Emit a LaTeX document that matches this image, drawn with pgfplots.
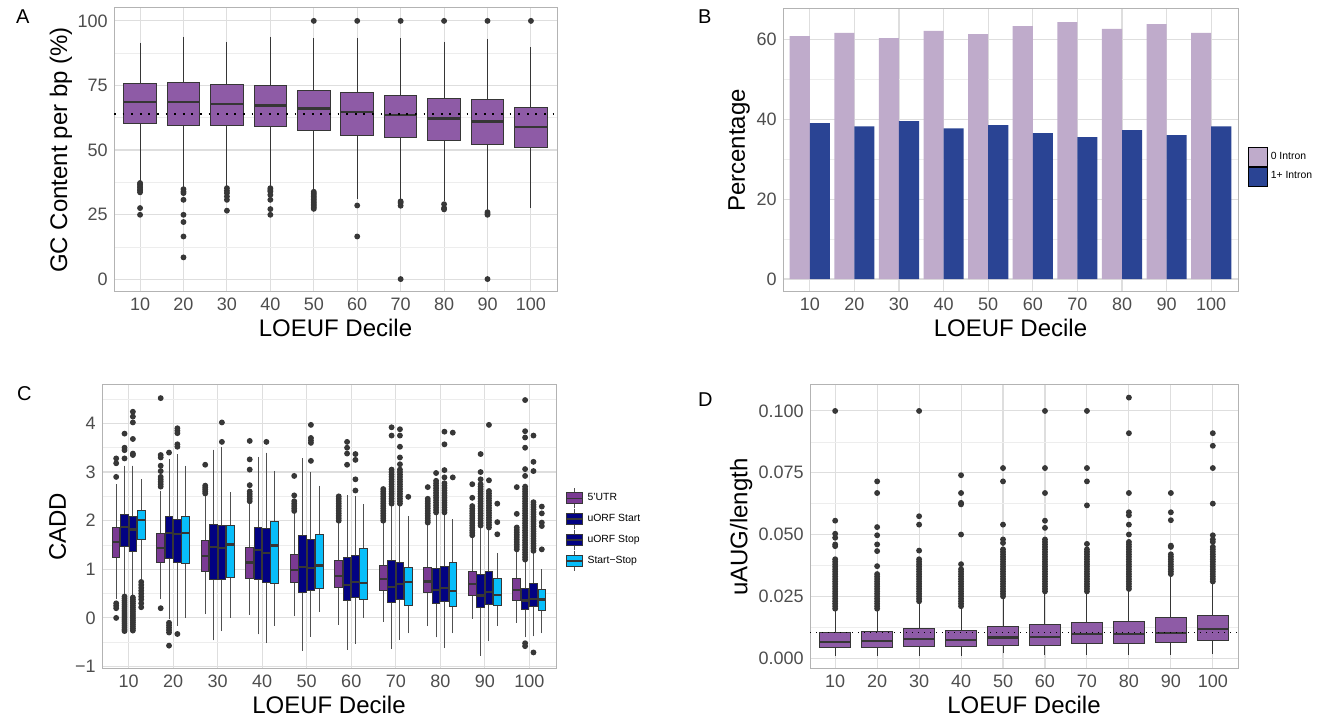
\documentclass[border=0pt]{standalone}
\usepackage{pgfplots}
\pgfplotsset{compat=1.18}
\usepgfplotslibrary{statistics}
\usepackage{fontspec}
\setmainfont{Liberation Sans}

\definecolor{boxA}{HTML}{8E5BA6}
\definecolor{barA}{HTML}{BFABCB}
\definecolor{barB}{HTML}{2A4494}
\definecolor{cU}{HTML}{7A3A93}
\definecolor{cS}{HTML}{020282}
\definecolor{cX}{HTML}{08BEFA}
\definecolor{boxline}{HTML}{363636}
\definecolor{whisk}{HTML}{505050}
\definecolor{outcol}{HTML}{383838}
\definecolor{tickcol}{HTML}{4D4D4D}
\definecolor{border}{HTML}{B3B3B3}
\definecolor{gridmaj}{HTML}{DEDEDE}
\definecolor{gridmin}{HTML}{EDEDED}

\pgfplotsset{
  table/row sep=\\, table/y index=0,
  gg/.style={
    scale only axis,
    xmin=0.4, xmax=10.6,
    xtick={1,...,10},
    xticklabels={10,20,30,40,50,60,70,80,90,100},
    /pgf/number format/assume math mode=true,
    axis line style={draw=border, line width=0.5pt},
    major tick length=0pt, minor tick length=0pt,
    xmajorgrids, ymajorgrids, yminorgrids,
    major grid style={draw=gridmaj, line width=0.55pt},
    minor grid style={draw=gridmin, line width=0.3pt},
    tick label style={font=\fontsize{9}{10}\selectfont, text=tickcol, inner sep=0pt},
    xticklabel style={yshift=-3pt},
    yticklabel style={xshift=-3pt},
    label style={font=\fontsize{12}{14}\selectfont, inner sep=0pt},
    xlabel style={at={(axis description cs:0.5,0)}, anchor=north, yshift=-13.5pt},
    xlabel={LOEUF Decile},
    boxplot/draw direction=y,
  },
  bx/.style={forget plot, draw=boxline, line width=0.5pt, fill=#1,
    mark=*, mark size=1.2pt, mark options={draw=none, fill=outcol},
    boxplot/whisker extend=0,
    boxplot/every median/.style={draw=boxline, line width=1.1pt}},
}

\begin{document}
\begin{tikzpicture}
\path[use as bounding box] (0,0) rectangle (664.5pt,360.5pt);

\node[anchor=base west, font=\fontsize{10}{12}\selectfont] at (4.5pt,348.5pt) {A};
\node[anchor=base west, font=\fontsize{10}{12}\selectfont] at (345.5pt,348.5pt) {B};
\node[anchor=base west, font=\fontsize{10}{12}\selectfont] at (5pt,160pt) {C};
\node[anchor=base west, font=\fontsize{10}{12}\selectfont] at (345.5pt,157pt) {D};

% ---------------- A: GC content
\begin{axis}[gg, at={(57pt,214.5pt)}, anchor=south west,
  width=221.5pt, height=142pt,
  ymin=-5, ymax=105, ytick={0,25,50,75,100}, minor ytick={12.5,37.5,62.5,87.5},
  ylabel={GC Content per bp (\%)},
  ylabel style={at={(axis description cs:-0.1196,0.5)}, anchor=center},
  boxplot/box extend=0.75]
\addplot[bx=boxA, boxplot prepared={draw position=1, lower whisker=38.0, lower quartile=60.3, median=68.6, upper quartile=75.6, upper whisker=91.6}]
  table {y\\ 37.2\\ 36.6\\ 36\\ 35.4\\ 34.8\\ 34.2\\ 33.6\\ 27.5\\ 24.9\\};
\addplot[bx=boxA, boxplot prepared={draw position=2, lower whisker=35.5, lower quartile=59.6, median=68.6, upper quartile=76.1, upper whisker=93.9}]
  table {y\\ 34.8\\ 33.9\\ 33.3\\ 30.7\\ 24.9\\ 22.1\\ 16.5\\ 8.4\\};
\addplot[bx=boxA, boxplot prepared={draw position=3, lower whisker=36.0, lower quartile=59.6, median=67.9, upper quartile=75.5, upper whisker=91.9}]
  table {y\\ 35.2\\ 34.2\\ 33.3\\ 32.0\\ 30.7\\ 26.5\\};
\addplot[bx=boxA, boxplot prepared={draw position=4, lower whisker=36.0, lower quartile=59.1, median=67.2, upper quartile=75.1, upper whisker=93.9}]
  table {y\\ 35.2\\ 34.5\\ 33.9\\ 32.6\\ 30.7\\ 27.1\\ 24.9\\};
\addplot[bx=boxA, boxplot prepared={draw position=5, lower whisker=34.5, lower quartile=57.4, median=66.1, upper quartile=73.2, upper whisker=93.3}]
  table {y\\ 100\\ 33.8\\ 33.2\\ 32.6\\ 32\\ 31.4\\ 30.8\\ 30.2\\ 29.6\\ 29\\ 28.4\\ 27.8\\ 27.2\\};
\addplot[bx=boxA, boxplot prepared={draw position=6, lower whisker=31.1, lower quartile=55.6, median=64.8, upper quartile=72.3, upper whisker=93.5}]
  table {y\\ 100\\ 28.5\\ 16.5\\};
\addplot[bx=boxA, boxplot prepared={draw position=7, lower whisker=31.0, lower quartile=54.7, median=63.5, upper quartile=71.1, upper whisker=93.3}]
  table {y\\ 100\\ 30.1\\ 29.5\\ 28.4\\ 0\\};
\addplot[bx=boxA, boxplot prepared={draw position=8, lower whisker=30.2, lower quartile=53.7, median=62.2, upper quartile=69.9, upper whisker=91.9}]
  table {y\\ 100\\ 29\\ 27.5\\ 27\\};
\addplot[bx=boxA, boxplot prepared={draw position=9, lower whisker=26.8, lower quartile=52.3, median=61.0, upper quartile=69.7, upper whisker=93.0}]
  table {y\\ 100\\ 25.9\\ 25.3\\ 24.9\\ 0\\};
\addplot[bx=boxA, boxplot prepared={draw position=10, lower whisker=27.7, lower quartile=50.8, median=58.8, upper quartile=66.6, upper whisker=89.8}]
  table {y\\ 100\\};
\addplot[black, line width=0.9pt, dash pattern=on 0.9pt off 3.4pt, forget plot]
  coordinates {(0.4,63.9) (10.6,63.9)};
\end{axis}

% ---------------- B: intron percentage
\begin{axis}[gg, at={(391.5pt,214.5pt)}, anchor=south west,
  width=227.5pt, height=141.5pt,
  ymin=-3.25, ymax=67.7, ytick={0,20,40,60}, minor ytick={10,30,50},
  ylabel={Percentage},
  ylabel style={at={(axis description cs:-0.0967,0.5)}, anchor=center},
  bar width=0.45,
  legend image code/.code={\fill[#1] (0pt,-4.75pt) rectangle (9.5pt,4.75pt);},
  legend style={at={(axis description cs:1.022,0.512)}, anchor=north west,
    draw=none, fill=none, inner sep=0pt, outer sep=0pt, row sep=0pt,
    font=\fontsize{5.2}{6}\selectfont, legend cell align=left,
    nodes={inner xsep=1.5pt, inner ysep=0pt}}]
\addplot[ybar, bar shift=-0.225, fill=barA, draw=none, forget plot]
  coordinates {(1,60.9) (2,61.7) (3,60.4) (4,62.2) (5,61.4) (6,63.4) (7,64.4) (8,62.7) (9,63.9) (10,61.7)};
\addplot[ybar, bar shift=0.225, fill=barB, draw=none, forget plot]
  coordinates {(1,39.1) (2,38.3) (3,39.6) (4,37.8) (5,38.6) (6,36.6) (7,35.6) (8,37.3) (9,36.1) (10,38.3)};
\addlegendimage{fill=barA}
\addlegendentry{0 Intron}
\addlegendimage{fill=barB}
\addlegendentry{1+ Intron}
\end{axis}

% ---------------- C: CADD
\begin{axis}[gg, at={(51pt,26pt)}, anchor=south west,
  width=227pt, height=142pt,
  ymin=-1.05, ymax=4.79, ytick={-1,0,1,2,3,4}, yticklabels={−1,0,1,2,3,4},
  minor ytick={-0.5,0.5,1.5,2.5,3.5,4.5},
  ylabel={CADD},
  ylabel style={at={(axis description cs:-0.098,0.5)}, anchor=center},
  boxplot/box extend=0.17,
  boxplot/every whisker/.style={draw=whisk},
  legend image code/.code={
    \draw[whisk, line width=0.4pt] (4pt,-5pt)--(4pt,5pt);
    \filldraw[#1, draw=boxline, line width=0.5pt] (0pt,-2.75pt) rectangle (8pt,2.75pt);
    \draw[boxline, line width=0.8pt] (0pt,0pt)--(8pt,0pt);},
  legend style={at={(axis description cs:1.022,0.637)}, anchor=north west,
    draw=none, fill=none, inner sep=0pt, outer sep=0pt, row sep=0pt,
    font=\fontsize{5.2}{6}\selectfont, legend cell align=left,
    nodes={inner xsep=2pt, inner ysep=0pt}}]
% decile 10
\addplot[bx=cU, boxplot prepared={draw position=0.71875, lower whisker=0.38, lower quartile=1.25, median=1.56, upper quartile=1.86, upper whisker=2.75}]
  table {y\\ 3.28\\ 3.18\\ 2.9\\ 0.3\\ 0.25\\ 0.2\\ 0\\};
\addplot[bx=cS, boxplot prepared={draw position=0.90625, lower whisker=0.48, lower quartile=1.46, median=1.87, upper quartile=2.13, upper whisker=3.13}]
  table {y\\ 3.79\\ 3.5\\ 3.45\\ 3.28\\ 0.44\\ 0.40\\ 0.36\\ 0.32\\ 0.28\\ 0.24\\ 0.20\\ 0.16\\ 0.12\\ 0.08\\ 0.04\\ 0\\ -0.04\\ -0.08\\ -0.12\\ -0.16\\ -0.2\\ -0.24\\ -0.27\\};
\addplot[bx=cS, boxplot prepared={draw position=1.09375, lower whisker=0.46, lower quartile=1.37, median=1.82, upper quartile=2.08, upper whisker=3.13}]
  table {y\\ 4.24\\ 4.14\\ 4.02\\ 3.68\\ 3.38\\ 3.35\\ 0.42\\ 0.38\\ 0.34\\ 0.30\\ 0.26\\ 0.22\\ 0.18\\ 0.14\\ 0.10\\ 0.06\\ 0.02\\ -0.02\\ -0.06\\ -0.10\\ -0.14\\ -0.18\\ -0.22\\ -0.26\\};
\addplot[bx=cX, boxplot prepared={draw position=1.28125, lower whisker=0.8, lower quartile=1.62, median=2.01, upper quartile=2.2, upper whisker=2.85}]
  table {y\\ 0.74\\ 0.68\\ 0.62\\ 0.56\\ 0.5\\ 0.44\\ 0.38\\ 0.3\\ 0.22\\};
% decile 20
\addplot[bx=cU, boxplot prepared={draw position=1.71875, lower whisker=0.38, lower quartile=1.13, median=1.43, upper quartile=1.73, upper whisker=2.62}]
  table {y\\ 4.52\\ 3.35\\ 3.3\\ 3.13\\ 3.02\\ 2.9\\ 2.85\\ 2.8\\ 2.75\\ 2.7\\ 0.2\\};
\addplot[bx=cS, boxplot prepared={draw position=1.90625, lower whisker=-0.03, lower quartile=1.22, median=1.74, upper quartile=2.08, upper whisker=3.26}]
  table {y\\ 3.4\\ -0.1\\ -0.15\\ -0.2\\ -0.25\\ -0.3\\ -0.57\\};
\addplot[bx=cS, boxplot prepared={draw position=2.09375, lower whisker=-0.16, lower quartile=1.15, median=1.72, upper quartile=2.03, upper whisker=3.37}]
  table {y\\ 3.9\\ 3.85\\ 3.8\\ 3.57\\ 3.52\\ -0.33\\};
\addplot[bx=cX, boxplot prepared={draw position=2.28125, lower whisker=0.0, lower quartile=1.12, median=1.75, upper quartile=2.08, upper whisker=3.13}]
  coordinates {};
% decile 30
\addplot[bx=cU, boxplot prepared={draw position=2.71875, lower whisker=0.08, lower quartile=0.96, median=1.27, upper quartile=1.6, upper whisker=2.5}]
  table {y\\ 3.15\\ 2.72\\ 2.68\\ 2.64\\ 2.6\\ 2.56\\};
\addplot[bx=cS, boxplot prepared={draw position=2.90625, lower whisker=-0.46, lower quartile=0.8, median=1.46, upper quartile=1.93, upper whisker=3.46}]
  coordinates {};
\addplot[bx=cS, boxplot prepared={draw position=3.09375, lower whisker=-0.27, lower quartile=0.78, median=1.43, upper quartile=1.9, upper whisker=3.52}]
  table {y\\ 4.02\\ 3.62\\};
\addplot[bx=cX, boxplot prepared={draw position=3.28125, lower whisker=0.0, lower quartile=0.84, median=1.51, upper quartile=1.91, upper whisker=2.58}]
  coordinates {};
% decile 40
\addplot[bx=cU, boxplot prepared={draw position=3.71875, lower whisker=0.07, lower quartile=0.82, median=1.14, upper quartile=1.45, upper whisker=2.35}]
  table {y\\ 3.64\\ 3.26\\ 3.05\\ 2.73\\ 2.6\\ 2.55\\ 2.5\\ 2.45\\ 2.4\\};
\addplot[bx=cS, boxplot prepared={draw position=3.90625, lower whisker=-0.34, lower quartile=0.78, median=1.4, upper quartile=1.86, upper whisker=3.31}]
  coordinates {};
\addplot[bx=cS, boxplot prepared={draw position=4.09375, lower whisker=-0.52, lower quartile=0.72, median=1.34, upper quartile=1.83, upper whisker=3.4}]
  table {y\\ 3.62\\};
\addplot[bx=cX, boxplot prepared={draw position=4.28125, lower whisker=-0.16, lower quartile=0.71, median=1.49, upper quartile=1.98, upper whisker=3.03}]
  coordinates {};
% decile 50
\addplot[bx=cU, boxplot prepared={draw position=4.71875, lower whisker=0.03, lower quartile=0.72, median=0.99, upper quartile=1.3, upper whisker=2.15}]
  table {y\\ 2.92\\ 2.52\\ 2.4\\ 2.35\\ 2.3\\ 2.25\\ 2.2\\};
\addplot[bx=cS, boxplot prepared={draw position=4.90625, lower whisker=-0.67, lower quartile=0.52, median=1.04, upper quartile=1.69, upper whisker=3.28}]
  coordinates {};
\addplot[bx=cS, boxplot prepared={draw position=5.09375, lower whisker=-0.39, lower quartile=0.56, median=1.02, upper quartile=1.62, upper whisker=3.0}]
  table {y\\ 3.97\\ 3.7\\ 3.65\\ 3.6\\ 3.23\\};
\addplot[bx=cX, boxplot prepared={draw position=5.28125, lower whisker=0.12, lower quartile=0.6, median=1.08, upper quartile=1.72, upper whisker=2.72}]
  coordinates {};
% decile 60
\addplot[bx=cU, boxplot prepared={draw position=5.71875, lower whisker=-0.14, lower quartile=0.62, median=0.87, upper quartile=1.18, upper whisker=1.95}]
  table {y\\ 2.0\\ 2.05\\ 2.1\\ 2.15\\ 2.2\\ 2.25\\ 2.3\\ 2.35\\ 2.4\\ 2.45\\ 2.5\\};
\addplot[bx=cS, boxplot prepared={draw position=5.90625, lower whisker=-0.65, lower quartile=0.36, median=0.67, upper quartile=1.25, upper whisker=2.52}]
  table {y\\ 3.62\\ 3.5\\ 3.38\\ 3.15\\};
\addplot[bx=cS, boxplot prepared={draw position=6.09375, lower whisker=-0.53, lower quartile=0.42, median=0.74, upper quartile=1.29, upper whisker=2.5}]
  table {y\\ 3.37\\ 3.25\\ 2.85\\ 2.62\\};
\addplot[bx=cX, boxplot prepared={draw position=6.28125, lower whisker=0.0, lower quartile=0.38, median=0.72, upper quartile=1.43, upper whisker=2.34}]
  coordinates {};
% decile 70
\addplot[bx=cU, boxplot prepared={draw position=6.71875, lower whisker=-0.08, lower quartile=0.56, median=0.8, upper quartile=1.07, upper whisker=1.95}]
  table {y\\ 2.0\\ 2.05\\ 2.1\\ 2.15\\ 2.2\\ 2.25\\ 2.3\\ 2.35\\ 2.4\\ 2.45\\ 2.5\\ 2.55\\ 2.6\\ 2.65\\};
\addplot[bx=cS, boxplot prepared={draw position=6.90625, lower whisker=-0.64, lower quartile=0.31, median=0.63, upper quartile=1.18, upper whisker=2.3}]
  table {y\\ 3.92\\ 3.75\\ 3.05\\ 3.0\\ 2.95\\ 2.9\\ 2.85\\ 2.8\\ 2.75\\ 2.7\\ 2.65\\ 2.6\\ 2.55\\ 2.5\\ 2.45\\ 2.4\\ 2.35\\};
\addplot[bx=cS, boxplot prepared={draw position=7.09375, lower whisker=-0.45, lower quartile=0.38, median=0.69, upper quartile=1.15, upper whisker=2.3}]
  table {y\\ 3.88\\ 3.75\\ 3.52\\ 3.3\\ 3.16\\ 3.05\\ 3.0\\ 2.95\\ 2.9\\ 2.85\\ 2.8\\ 2.75\\ 2.7\\ 2.65\\ 2.6\\ 2.55\\ 2.5\\ 2.45\\ 2.4\\ 2.35\\};
\addplot[bx=cX, boxplot prepared={draw position=7.28125, lower whisker=-0.32, lower quartile=0.26, median=0.74, upper quartile=1.03, upper whisker=2.1}]
  table {y\\ 2.49\\};
% decile 80
\addplot[bx=cU, boxplot prepared={draw position=7.71875, lower whisker=-0.17, lower quartile=0.52, median=0.75, upper quartile=1.03, upper whisker=1.92}]
  table {y\\ 2.69\\ 1.96\\ 2.0\\ 2.05\\ 2.1\\ 2.15\\ 2.2\\ 2.25\\ 2.3\\ 2.35\\ 2.4\\ 2.45\\};
\addplot[bx=cS, boxplot prepared={draw position=7.90625, lower whisker=-0.4, lower quartile=0.29, median=0.58, upper quartile=1.01, upper whisker=2.13}]
  table {y\\ 2.98\\ 2.17\\ 2.22\\ 2.27\\ 2.32\\ 2.37\\ 2.42\\ 2.47\\ 2.52\\ 2.57\\ 2.62\\ 2.67\\ 2.72\\ 2.77\\ 2.82\\};
\addplot[bx=cS, boxplot prepared={draw position=8.09375, lower whisker=-0.62, lower quartile=0.33, median=0.62, upper quartile=1.05, upper whisker=2.13}]
  table {y\\ 3.83\\ 3.57\\ 3.04\\ 2.89\\ 2.17\\ 2.22\\ 2.27\\ 2.32\\ 2.37\\ 2.42\\ 2.47\\ 2.52\\ 2.57\\ 2.62\\ 2.67\\ 2.72\\ 2.77\\};
\addplot[bx=cX, boxplot prepared={draw position=8.28125, lower whisker=-0.32, lower quartile=0.24, median=0.55, upper quartile=1.13, upper whisker=2.03}]
  table {y\\ 3.81\\ 2.89\\};
% decile 90
\addplot[bx=cU, boxplot prepared={draw position=8.71875, lower whisker=-0.02, lower quartile=0.46, median=0.69, upper quartile=0.96, upper whisker=1.65}]
  table {y\\ 2.75\\ 2.47\\ 1.7\\ 1.75\\ 1.8\\ 1.85\\ 1.9\\ 1.95\\ 2.0\\ 2.05\\ 2.1\\ 2.15\\ 2.2\\ 2.25\\ 2.3\\};
\addplot[bx=cS, boxplot prepared={draw position=8.90625, lower whisker=-0.78, lower quartile=0.21, median=0.46, upper quartile=0.89, upper whisker=1.86}]
  table {y\\ 3.37\\ 3.0\\ 1.9\\ 1.95\\ 2.0\\ 2.05\\ 2.1\\ 2.15\\ 2.2\\ 2.25\\ 2.3\\ 2.35\\ 2.4\\ 2.45\\ 2.5\\ 2.55\\ 2.6\\ 2.65\\ 2.7\\ 2.75\\ 2.85\\};
\addplot[bx=cS, boxplot prepared={draw position=9.09375, lower whisker=-0.48, lower quartile=0.28, median=0.54, upper quartile=0.96, upper whisker=1.82}]
  table {y\\ 3.97\\ 2.83\\ 1.86\\ 1.91\\ 1.96\\ 2.01\\ 2.06\\ 2.11\\ 2.16\\ 2.21\\ 2.26\\ 2.31\\ 2.36\\ 2.41\\ 2.46\\ 2.51\\ 2.56\\ 2.61\\};
\addplot[bx=cX, boxplot prepared={draw position=9.28125, lower whisker=-0.16, lower quartile=0.25, median=0.47, upper quartile=0.81, upper whisker=1.34}]
  table {y\\ 2.35\\ 1.97\\ 1.72\\};
% decile 100
\addplot[bx=cU, boxplot prepared={draw position=9.71875, lower whisker=-0.1, lower quartile=0.36, median=0.57, upper quartile=0.82, upper whisker=1.37}]
  table {y\\ 2.69\\ 2.14\\ 1.41\\ 1.46\\ 1.51\\ 1.56\\ 1.61\\ 1.66\\ 1.71\\ 1.76\\ 1.81\\ 1.86\\};
\addplot[bx=cS, boxplot prepared={draw position=9.90625, lower whisker=-0.4, lower quartile=0.17, median=0.36, upper quartile=0.6, upper whisker=1.17}]
  table {y\\ 4.48\\ 3.84\\ 3.71\\ 3.5\\ 3.06\\ 2.92\\ 1.2\\ 1.25\\ 1.3\\ 1.35\\ 1.4\\ 1.45\\ 1.5\\ 1.55\\ 1.6\\ 1.65\\ 1.7\\ 1.75\\ 1.8\\ 1.85\\ 1.9\\ 1.95\\ 2.0\\ 2.05\\ 2.1\\ 2.15\\ 2.2\\ 2.25\\ 2.3\\ 2.35\\ 2.4\\ 2.45\\ 2.5\\ 2.55\\ 2.6\\ 2.65\\ 2.7\\ -0.52\\ -0.58\\};
\addplot[bx=cS, boxplot prepared={draw position=10.09375, lower whisker=-0.38, lower quartile=0.23, median=0.39, upper quartile=0.7, upper whisker=1.34}]
  table {y\\ 3.75\\ 3.21\\ 3.02\\ 1.38\\ 1.43\\ 1.48\\ 1.53\\ 1.58\\ 1.63\\ 1.68\\ 1.73\\ 1.78\\ 1.83\\ 1.88\\ 1.93\\ 1.98\\ 2.03\\ 2.08\\ 2.13\\ 2.18\\ 2.23\\ 2.28\\ 2.33\\ 2.38\\ -0.71\\};
\addplot[bx=cX, boxplot prepared={draw position=10.28125, lower whisker=-0.32, lower quartile=0.16, median=0.38, upper quartile=0.58, upper whisker=1.0}]
  table {y\\ 2.29\\ 2.15\\ 1.96\\ 1.89\\ 1.41\\};
\addlegendimage{fill=cU}
\addlegendentry{5'UTR}
\addlegendimage{fill=cS}
\addlegendentry{uORF Start}
\addlegendimage{fill=cS}
\addlegendentry{uORF Stop}
\addlegendimage{fill=cX}
\addlegendentry{Start−Stop}
\end{axis}

% ---------------- D: uAUG/length
\begin{axis}[gg, at={(405pt,26pt)}, anchor=south west,
  width=214pt, height=142pt,
  ymin=-0.0044, ymax=0.1105, ytick={0,0.025,0.05,0.075,0.1},
  yticklabels={0.000,0.025,0.050,0.075,0.100},
  minor ytick={0.0125,0.0375,0.0625,0.0875},
  ylabel={uAUG/length},
  ylabel style={at={(axis description cs:-0.161,0.5)}, anchor=center},
  boxplot/box extend=0.75]
\addplot[bx=boxA, boxplot prepared={draw position=1, lower whisker=0.0009, lower quartile=0.0043, median=0.0066, upper quartile=0.01035, upper whisker=0.0195}]
  table {y\\ 0.1\\ 0.0556\\ 0.0503\\ 0.0487\\ 0.046\\ 0.0453\\ 0.040\\ 0.039\\ 0.038\\ 0.037\\ 0.036\\ 0.035\\ 0.034\\ 0.033\\ 0.032\\ 0.031\\ 0.030\\ 0.029\\ 0.028\\ 0.027\\ 0.026\\ 0.025\\ 0.024\\ 0.023\\ 0.022\\ 0.021\\ 0.020\\};
\addplot[bx=boxA, boxplot prepared={draw position=2, lower whisker=0.0009, lower quartile=0.0043, median=0.0070, upper quartile=0.0108, upper whisker=0.019}]
  table {y\\ 0.0715\\ 0.0668\\ 0.053\\ 0.0497\\ 0.046\\ 0.0433\\ 0.0372\\ 0.034\\ 0.033\\ 0.032\\ 0.031\\ 0.030\\ 0.029\\ 0.028\\ 0.027\\ 0.026\\ 0.025\\ 0.024\\ 0.023\\ 0.022\\ 0.021\\ 0.020\\};
\addplot[bx=boxA, boxplot prepared={draw position=3, lower whisker=0.0009, lower quartile=0.0046, median=0.0077, upper quartile=0.0120, upper whisker=0.022}]
  table {y\\ 0.1\\ 0.0574\\ 0.054\\ 0.0435\\ 0.040\\ 0.039\\ 0.038\\ 0.037\\ 0.036\\ 0.035\\ 0.034\\ 0.033\\ 0.032\\ 0.031\\ 0.030\\ 0.029\\ 0.028\\ 0.027\\ 0.026\\ 0.025\\ 0.024\\ 0.023\\};
\addplot[bx=boxA, boxplot prepared={draw position=4, lower whisker=0.0009, lower quartile=0.0046, median=0.0073, upper quartile=0.0113, upper whisker=0.0205}]
  table {y\\ 0.074\\ 0.0668\\ 0.0628\\ 0.0622\\ 0.05\\ 0.038\\ 0.036\\ 0.035\\ 0.034\\ 0.033\\ 0.032\\ 0.031\\ 0.030\\ 0.029\\ 0.028\\ 0.027\\ 0.026\\ 0.025\\ 0.024\\ 0.023\\ 0.022\\ 0.021\\};
\addplot[bx=boxA, boxplot prepared={draw position=5, lower whisker=0.0019, lower quartile=0.005, median=0.0083, upper quartile=0.0128, upper whisker=0.024}]
  table {y\\ 0.0769\\ 0.0715\\ 0.054\\ 0.048\\ 0.0466\\ 0.044\\ 0.043\\ 0.042\\ 0.041\\ 0.040\\ 0.039\\ 0.038\\ 0.037\\ 0.036\\ 0.035\\ 0.034\\ 0.033\\ 0.032\\ 0.031\\ 0.030\\ 0.029\\ 0.028\\ 0.027\\ 0.026\\ 0.025\\};
\addplot[bx=boxA, boxplot prepared={draw position=6, lower whisker=0.0013, lower quartile=0.0052, median=0.0086, upper quartile=0.0138, upper whisker=0.026}]
  table {y\\ 0.1\\ 0.0769\\ 0.0668\\ 0.0556\\ 0.0527\\ 0.048\\ 0.047\\ 0.046\\ 0.045\\ 0.044\\ 0.043\\ 0.042\\ 0.041\\ 0.040\\ 0.039\\ 0.038\\ 0.037\\ 0.036\\ 0.035\\ 0.034\\ 0.033\\ 0.032\\ 0.031\\ 0.030\\ 0.029\\ 0.028\\ 0.027\\};
\addplot[bx=boxA, boxplot prepared={draw position=7, lower whisker=0.0013, lower quartile=0.0059, median=0.0097, upper quartile=0.0144, upper whisker=0.0262}]
  table {y\\ 0.1\\ 0.0769\\ 0.0715\\ 0.0618\\ 0.0462\\ 0.044\\ 0.043\\ 0.042\\ 0.041\\ 0.040\\ 0.039\\ 0.038\\ 0.037\\ 0.036\\ 0.035\\ 0.034\\ 0.033\\ 0.032\\ 0.031\\ 0.030\\ 0.029\\ 0.028\\ 0.027\\};
\addplot[bx=boxA, boxplot prepared={draw position=8, lower whisker=0.0013, lower quartile=0.0059, median=0.0097, upper quartile=0.0148, upper whisker=0.0276}]
  table {y\\ 0.1054\\ 0.091\\ 0.0668\\ 0.059\\ 0.0578\\ 0.054\\ 0.05\\ 0.047\\ 0.046\\ 0.045\\ 0.044\\ 0.043\\ 0.042\\ 0.041\\ 0.040\\ 0.039\\ 0.038\\ 0.037\\ 0.036\\ 0.035\\ 0.034\\ 0.033\\ 0.032\\ 0.031\\ 0.030\\ 0.029\\ 0.028\\};
\addplot[bx=boxA, boxplot prepared={draw position=9, lower whisker=0.0013, lower quartile=0.0063, median=0.0103, upper quartile=0.0164, upper whisker=0.033}]
  table {y\\ 0.0668\\ 0.059\\ 0.0558\\ 0.0455\\ 0.045\\ 0.042\\ 0.041\\ 0.040\\ 0.039\\ 0.038\\ 0.037\\ 0.036\\ 0.035\\ 0.034\\};
\addplot[bx=boxA, boxplot prepared={draw position=10, lower whisker=0.0016, lower quartile=0.007, median=0.0117, upper quartile=0.0171, upper whisker=0.0305}]
  table {y\\ 0.091\\ 0.0859\\ 0.0769\\ 0.0625\\ 0.0497\\ 0.048\\ 0.047\\ 0.045\\ 0.044\\ 0.043\\ 0.042\\ 0.041\\ 0.040\\ 0.039\\ 0.038\\ 0.037\\ 0.036\\ 0.035\\ 0.034\\ 0.033\\ 0.032\\ 0.031\\};
\addplot[black, line width=0.6pt, dash pattern=on 0.6pt off 2.4pt, forget plot]
  coordinates {(0.4,0.01035) (10.6,0.01035)};
\end{axis}
\end{tikzpicture}
\end{document}
